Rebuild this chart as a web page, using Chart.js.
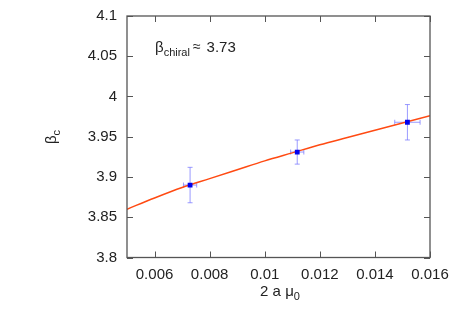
<!DOCTYPE html>
<html><head><meta charset="utf-8">
<script src="https://cdn.jsdelivr.net/npm/chart.js@4/dist/chart.umd.min.js"></script>
<style>html,body{margin:0;padding:0;background:#fff}#wrap{width:450px;height:315px}</style>
</head><body><div id="wrap"><canvas id="c" width="450" height="315"></canvas></div>
<script>
const xTicks = [0.006, 0.008, 0.010, 0.012, 0.014, 0.016];
const yTicks = [3.80, 3.85, 3.90, 3.95, 4.00, 4.05, 4.10];
const xTickLabels = ['0.006','0.008','0.01','0.012','0.014','0.016'];
const yTickLabels = ['3.8','3.85','3.9','3.95','4','4.05','4.1'];
const pointX = [0.00729, 0.01118, 0.01518];
const pointY = [3.890, 3.931, 3.968];
const errX = [0.00024, 0.00024, 0.00046];
const errY = [0.022, 0.015, 0.022];
const fitX = [0.005,0.006,0.007,0.008,0.009,0.010,0.011,0.012,0.013,0.014,0.015,0.016];
const fitY = [3.860,3.874,3.887,3.898,3.909,3.920,3.930,3.940,3.949,3.958,3.967,3.976];
const annotation = ['β', 'chiral', '≈', '3.73'];

const FONT = '"Liberation Sans", Arial, sans-serif';
const TXT = '#222';
const BIG = '15px ' + FONT, SMALL = '11px ' + FONT;

const decor = {
  id: 'decor',
  beforeDatasetsDraw(chart) {
    const ctx = chart.ctx, xs = chart.scales.x, ys = chart.scales.y;
    ctx.save();
    ctx.strokeStyle = 'rgba(120,120,255,0.75)';
    ctx.lineWidth = 1;
    const c = 2.5;
    for (let i = 0; i < pointX.length; i++) {
      const px = xs.getPixelForValue(pointX[i]), py = ys.getPixelForValue(pointY[i]);
      const y1 = ys.getPixelForValue(pointY[i] + errY[i]), y2 = ys.getPixelForValue(pointY[i] - errY[i]);
      const x1 = xs.getPixelForValue(pointX[i] - errX[i]), x2 = xs.getPixelForValue(pointX[i] + errX[i]);
      ctx.beginPath();
      ctx.moveTo(px, y1); ctx.lineTo(px, y2);
      ctx.moveTo(px - c, y1); ctx.lineTo(px + c, y1);
      ctx.moveTo(px - c, y2); ctx.lineTo(px + c, y2);
      ctx.moveTo(x1, py); ctx.lineTo(x2, py);
      ctx.moveTo(x1, py - c); ctx.lineTo(x1, py + c);
      ctx.moveTo(x2, py - c); ctx.lineTo(x2, py + c);
      ctx.stroke();
    }
    ctx.restore();
  },
  afterDraw(chart) {
    const ctx = chart.ctx, xs = chart.scales.x, ys = chart.scales.y, a = chart.chartArea;
    ctx.save();
    ctx.strokeStyle = '#555';
    ctx.lineWidth = 1.3;
    ctx.strokeRect(a.left, a.top, a.right - a.left, a.bottom - a.top);
    ctx.beginPath();
    xTicks.forEach(v => {
      const p = Math.round(xs.getPixelForValue(v)) + 0.5;
      ctx.moveTo(p, a.bottom); ctx.lineTo(p, a.bottom - 6);
      ctx.moveTo(p, a.top); ctx.lineTo(p, a.top + 6);
    });
    yTicks.forEach(v => {
      const p = Math.round(ys.getPixelForValue(v)) + 0.5;
      ctx.moveTo(a.left, p); ctx.lineTo(a.left + 6, p);
      ctx.moveTo(a.right, p); ctx.lineTo(a.right - 6, p);
    });
    ctx.lineWidth = 1;
    ctx.stroke();
    ctx.fillStyle = TXT;
    ctx.font = BIG;
    ctx.textAlign = 'center'; ctx.textBaseline = 'middle';
    xTicks.forEach((v, i) => ctx.fillText(xTickLabels[i], xs.getPixelForValue(v), a.bottom + 17.5));
    ctx.textAlign = 'right';
    yTicks.forEach((v, i) => ctx.fillText(yTickLabels[i], a.left - 10, ys.getPixelForValue(v)));
    // x title
    ctx.textAlign = 'left'; ctx.textBaseline = 'alphabetic';
    const t1 = '2 a μ', w1 = ctx.measureText(t1).width;
    ctx.font = SMALL;
    const w2 = ctx.measureText('0').width;
    const cx = 280 - (w1 + w2) / 2;
    ctx.font = BIG;
    ctx.fillText(t1, cx, 296);
    ctx.font = SMALL;
    ctx.fillText('0', cx + w1, 299.5);
    // y title
    ctx.save();
    ctx.translate(56, 137);
    ctx.rotate(-Math.PI / 2);
    ctx.font = BIG;
    const wb = ctx.measureText('β').width;
    ctx.font = SMALL;
    const wc = ctx.measureText('c').width;
    ctx.font = BIG;
    ctx.fillText('β', -(wb + wc) / 2, 0);
    ctx.font = SMALL;
    ctx.fillText('c', -(wb + wc) / 2 + wb, 3.5);
    ctx.restore();
    // annotation
    let ax = 155, ay = 52;
    ctx.font = BIG;
    ctx.fillText(annotation[0], ax, ay);
    ax += ctx.measureText(annotation[0]).width;
    ctx.font = SMALL;
    ctx.fillText(annotation[1], ax, ay + 4);
    ax += ctx.measureText(annotation[1]).width + 3;
    ctx.font = '14px ' + FONT;
    ctx.fillText(annotation[2], ax, ay - 1);
    ax += ctx.measureText(annotation[2]).width + 6;
    ctx.font = BIG;
    ctx.fillText(annotation[3], ax, ay);
    ctx.restore();
  }
};

new Chart(document.getElementById('c'), {
  type: 'scatter',
  data: {
    datasets: [
      {
        data: fitX.map((x, i) => ({x, y: fitY[i]})),
        showLine: true, pointRadius: 0, borderColor: '#ff4a12', borderWidth: 1.5,
        tension: 0.4, cubicInterpolationMode: 'monotone', order: 2
      },
      {
        data: pointX.map((x, i) => ({x, y: pointY[i]})),
        pointStyle: 'rect', pointRadius: 3.4, backgroundColor: '#0000ee',
        borderColor: '#0000ee', borderWidth: 0, order: 1
      }
    ]
  },
  options: {
    responsive: false, animation: false, devicePixelRatio: 1,
    layout: { padding: { left: 0, right: 20, top: 16, bottom: 0 } },
    plugins: { legend: { display: false }, tooltip: { enabled: false } },
    scales: {
      x: {
        type: 'linear', min: 0.005, max: 0.016,
        grid: { display: false }, border: { display: false },
        ticks: { display: false },
        afterFit(s) { s.height = 57.5; }
      },
      y: {
        type: 'linear', min: 3.8, max: 4.1,
        grid: { display: false }, border: { display: false },
        ticks: { display: false },
        afterFit(s) { s.width = 127; }
      }
    }
  },
  plugins: [decor]
});
</script></body></html>
